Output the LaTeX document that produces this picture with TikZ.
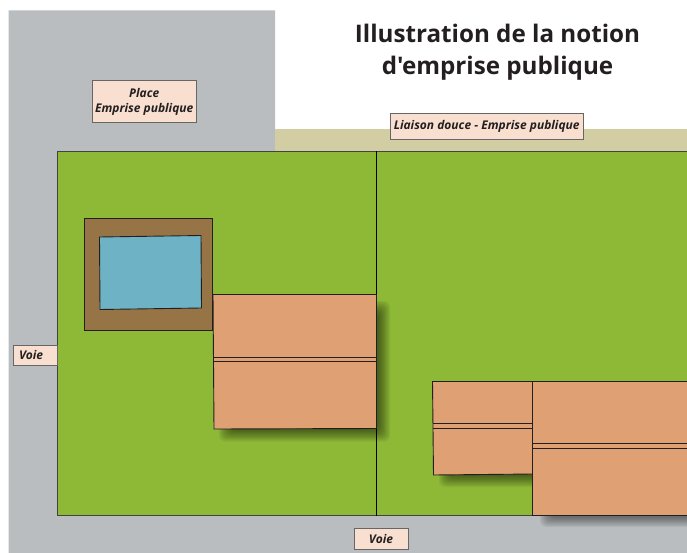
\documentclass[tikz,border=0pt]{standalone}
\usepackage{fontspec}
\setmainfont{Open Sans}
\newfontfamily\titlefont{Open Sans}
\definecolor{road}{HTML}{B9BDC0}
\definecolor{path}{HTML}{D3CDA3}
\definecolor{lawn}{HTML}{8DB936}
\definecolor{soil}{HTML}{967446}
\definecolor{water}{HTML}{6EB2C6}
\definecolor{roof}{HTML}{DFA074}
\definecolor{tag}{HTML}{F8DFCF}
\definecolor{ink}{HTML}{231F20}
\tikzset{
  lbl/.style={draw=black!60,line width=.7pt,fill=tag,inner sep=0pt,align=center,text=ink,
    font=\fontsize{12}{15}\selectfont\bfseries\itshape},
  outline/.style={draw=ink,line width=.9pt},
  rooftop/.style={outline,fill=roof},
}
\newcommand{\softshadow}[4]{%
  \foreach \k in {0,...,14}{
    \fill[black,opacity=.055,rounded corners=6pt]
      ({#1+\k*1.2-9},{#2+\k*1.2-9}) rectangle ({#3-\k*1.2+9},{#4-\k*1.2+9});
  }}
\begin{document}
\begin{tikzpicture}[x=1pt,y=-1pt]
\useasboundingbox (0,0) rectangle (687,553);
\clip (0,0) rectangle (687,553);
% ground
\fill[road] (8.5,10.5) -- (275,10.5) -- (275,151) -- (687,151) -- (687,553) -- (8.5,553) -- cycle;
\fill[path] (275,129.5) rectangle (687,151);
\fill[lawn,draw=ink!85,line width=.9pt] (57.5,151) rectangle (700,515.5);
% shadows
\softshadow{549}{398}{720}{518}
\softshadow{228}{310}{381}{432.5}
\softshadow{448}{395}{540}{478}
% plot boundary
\draw[black,line width=.9pt] (376.5,151) -- (376.5,515.5);
% pond
\draw[outline,fill=soil] (84.5,218.5) rectangle (212.5,330.5);
\draw[outline,fill=water] (99.5,237) -- (201,235.5) -- (201.5,308) -- (100,309.5) -- cycle;
% buildings
\draw[rooftop] (213,294.5) -- (376.5,294.5) -- (376.5,428.5) -- (214,429) -- cycle;
\draw[outline] (213.2,357.5) -- (376.5,357.5) (213.4,361.5) -- (376.5,361.5);
\draw[rooftop] (432.5,381.5) -- (532.5,381.5) -- (532.5,474) -- (433.5,475) -- cycle;
\draw[outline] (432.8,423) -- (532.5,423) (432.8,428) -- (532.5,428);
\draw[rooftop] (532.5,381.5) -- (700,381.5) -- (700,515.5) -- (532.5,515.5) -- cycle;
\draw[outline] (532.5,443.5) -- (700,443.5) (532.5,448) -- (700,448);
% labels
\node[lbl,minimum width=104pt,minimum height=42pt] (place) at (144.2,101.5) {Place\\Emprise publique};
\node[lbl,minimum width=193pt,minimum height=26pt] (liaison) at (486.7,126) {Liaison douce - Emprise publique};
\node[lbl,minimum width=44pt,minimum height=20pt,text width=33pt,align=left] (voieg) at (35.5,355) {Voie};
\node[lbl,minimum width=54pt,minimum height=21pt] (voieb) at (381,538.5) {Voie};
\node[text=ink,align=center,font=\titlefont\fontsize{24.2}{32.5}\selectfont\bfseries] (titre) at (497.5,52)
  {Illustration de la notion\\d'emprise publique};
\end{tikzpicture}
\end{document}
